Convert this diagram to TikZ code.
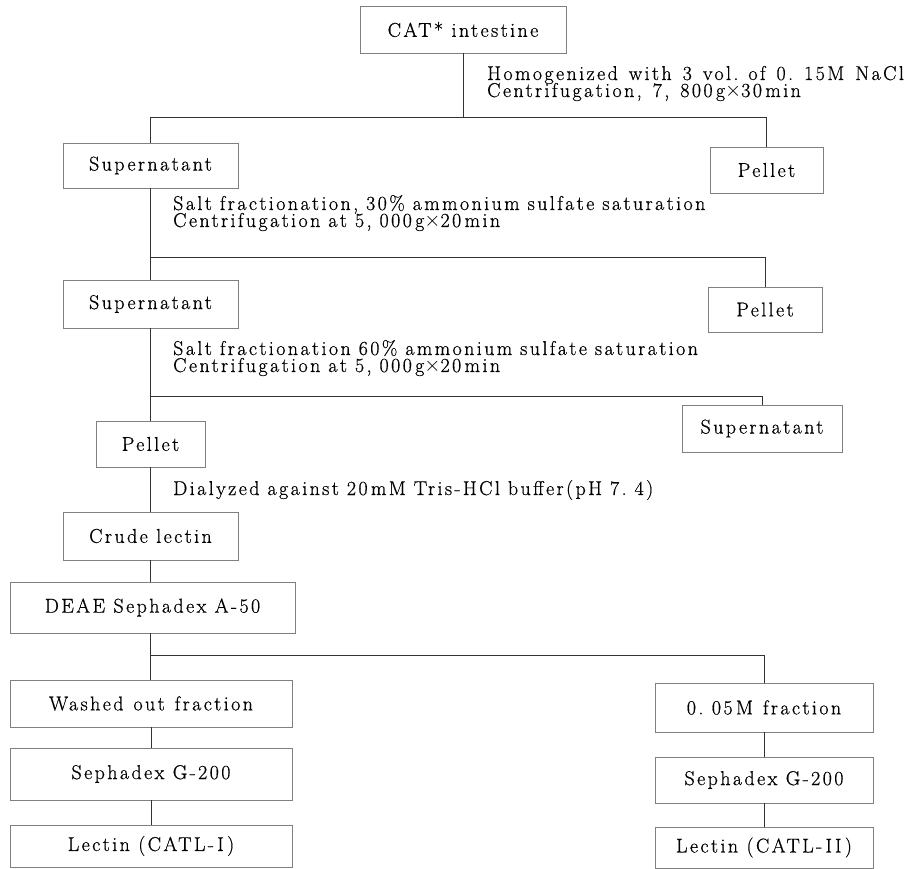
\documentclass[tikz,border=0pt]{standalone}
\usepackage{fontspec}
\setmainfont{Latin Modern Roman}[LetterSpace=12,FakeBold=0.6]
\newcommand\myfont{\fontsize{20}{17}\selectfont\lineskiplimit=-100pt\relax}
\begin{document}
\begin{tikzpicture}[x=1pt,y=-1pt,
  box/.style={draw=black!50, line width=0.6pt, rectangle, inner sep=0pt, font=\myfont},
  lab/.style={anchor=base west, inner sep=0pt, font=\myfont, text width=700pt, align=left},
  conn/.style={draw=black!80, line width=0.8pt}]
\useasboundingbox (0,0) rectangle (914,869);
% boxes
\node[box, minimum width=206pt, minimum height=47pt] (cat) at (463,29.5) {CAT* intestine};
\node[box, minimum width=175pt, minimum height=45pt] (sup1) at (150.5,165.5) {Supernatant};
\node[box, minimum width=113pt, minimum height=46pt] (pel1) at (766.5,170) {Pellet};
\node[box, minimum width=175pt, minimum height=48pt] (sup2) at (150.5,304) {Supernatant};
\node[box, minimum width=114pt, minimum height=45pt] (pel2) at (765,309.5) {Pellet};
\node[box, minimum width=109pt, minimum height=46pt] (pel3) at (150.5,444) {Pellet};
\node[box, minimum width=160pt, minimum height=47pt] (sup3) at (762,428.5) {Supernatant};
\node[box, minimum width=175pt, minimum height=48pt] (crude) at (150.5,536) {Crude lectin};
\node[box, minimum width=285pt, minimum height=51pt] (deae) at (152.5,607.5) {DEAE Sephadex A-50};
\node[box, minimum width=282pt, minimum height=47pt] (wash) at (151,703.5) {Washed\enspace out\enspace fraction};
\node[box, minimum width=218pt, minimum height=49pt] (m005) at (764,707.5) {0.\ 05\,M\enspace fraction};
\node[box, minimum width=282pt, minimum height=52pt] (sepL) at (151,774) {Sephadex G-200};
\node[box, minimum width=218pt, minimum height=46pt] (sepR) at (764,780) {Sephadex G-200};
\node[box, minimum width=282pt, minimum height=42pt] (lecL) at (151,846) {Lectin (CATL-\,I\,)};
\node[box, minimum width=218pt, minimum height=41pt] (lecR) at (764,847.5) {Lectin (CATL-\,II\,)};
% labels
\node[lab, text width=430pt] (h1) at (487,80) {\spaceskip=11pt plus 2pt\relax Homogenized with 3 vol. of 0.\ 15M NaCl\\Centrifugation, 7,\ 800\,g$\times$30\,min};
\node[lab] (s1) at (173,210) {\spaceskip=8pt plus 2pt\relax Salt fractionation, 30\% ammonium sulfate saturation\\Centrifugation at 5,\ 000\,g$\times$20\,min};
\node[lab] (s3) at (173,355) {\spaceskip=8pt plus 2pt\relax Salt fractionation 60\% ammonium sulfate saturation\\Centrifugation at 5,\ 000\,g$\times$20\,min};
\node[lab] (d1) at (173,495) {\spaceskip=8pt plus 2pt\relax Dialyzed against 20\,mM Tris-HCl buffer(pH 7.\ 4)};
% junction coordinates
\coordinate (j1) at (463,117);
\coordinate (j2) at (150.5,257);
\coordinate (j3) at (150.5,396);
\coordinate (j4) at (150.5,655);
% connectors
\draw[conn] (cat.south) -- (j1);
\draw[conn] (sup1.north) -- (sup1.north |- j1) -- (pel1.north |- j1) -- (pel1.north);
\draw[conn] (sup1.south) -- (sup2.north);
\draw[conn] (j2) -| (pel2.north);
\draw[conn] (sup2.south) -- (pel3.north);
\draw[conn] (j3) -| (sup3.north);
\draw[conn] (pel3.south) -- (crude.north);
\draw[conn] (crude.south) -- (deae.north -| crude.south);
\draw[conn] (deae.south -| j4) -- (wash.north -| j4);
\draw[conn] (j4) -| (m005.north);
\draw[conn] (wash.south) -- (sepL.north);
\draw[conn] (sepL.south) -- (lecL.north);
\draw[conn] (m005.south) -- (sepR.north);
\draw[conn] (sepR.south) -- (lecR.north);
\end{tikzpicture}
\end{document}
